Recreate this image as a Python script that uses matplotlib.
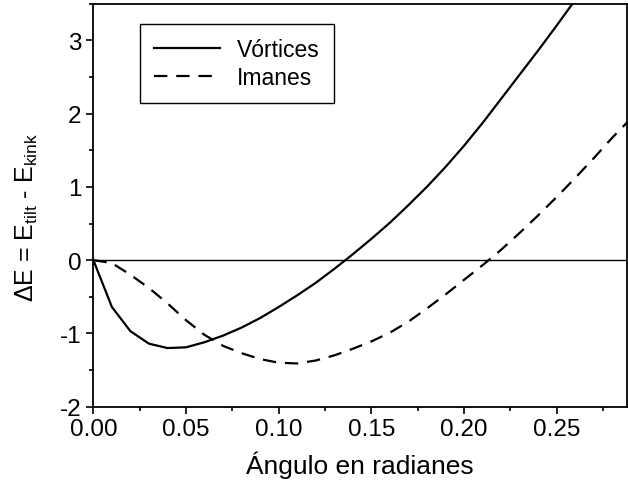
import matplotlib
matplotlib.use("Agg")
import matplotlib.pyplot as plt
from matplotlib.ticker import MultipleLocator

plt.rcParams['font.family'] = ['Liberation Sans', 'DejaVu Sans']
plt.rcParams['mathtext.fontset'] = 'custom'
plt.rcParams['mathtext.rm'] = 'Liberation Sans'
plt.rcParams['mathtext.it'] = 'Liberation Sans:italic'
plt.rcParams['axes.unicode_minus'] = False

# angle in radians, sampled every 0.01
angle = [0.00, 0.01, 0.02, 0.03, 0.04, 0.05, 0.06, 0.07, 0.08, 0.09,
         0.10, 0.11, 0.12, 0.13, 0.14, 0.15, 0.16, 0.17, 0.18, 0.19,
         0.20, 0.21, 0.22, 0.23, 0.24, 0.25, 0.26, 0.27]
vortices = [0.00, -0.64, -0.97, -1.14, -1.20, -1.19, -1.12, -1.03, -0.92, -0.79,
            -0.64, -0.48, -0.31, -0.12, 0.08, 0.29, 0.51, 0.75, 1.00, 1.27,
            1.56, 1.87, 2.20, 2.53, 2.86, 3.20, 3.55, 3.91]

angle_im = [0.00, 0.01, 0.02, 0.03, 0.04, 0.05, 0.06, 0.07, 0.08, 0.09,
            0.10, 0.11, 0.12, 0.13, 0.14, 0.15, 0.16, 0.17, 0.18, 0.19,
            0.20, 0.21, 0.22, 0.23, 0.24, 0.25, 0.26, 0.27, 0.28, 0.29]
imanes = [0.00, -0.04, -0.20, -0.38, -0.59, -0.82, -1.02, -1.17, -1.27, -1.35,
          -1.40, -1.41, -1.37, -1.30, -1.21, -1.11, -0.99, -0.84, -0.66, -0.47,
          -0.27, -0.07, 0.14, 0.37, 0.61, 0.86, 1.12, 1.39, 1.67, 1.93]

x_ticks = [0.00, 0.05, 0.10, 0.15, 0.20, 0.25]
x_ticklabels = ['0.00', '0.05', '0.10', '0.15', '0.20', '0.25']
y_ticks = [-2, -1, 0, 1, 2, 3]

fig = plt.figure(figsize=(6.28, 4.89), dpi=100)
ax = fig.add_axes([0.1487, 0.1663, 0.8497, 0.8241])

ax.axhline(0, color='black', linewidth=1.0, zorder=1)
ax.plot(angle, vortices, color='black', linewidth=1.6, label='Vórtices')
ax.plot(angle_im, imanes, color='black', linewidth=1.6,
        linestyle=(0, (6, 4)), label='Imanes')

ax.set_xlim(0, 0.288)
ax.set_ylim(-2, 3.5)
ax.set_xticks(x_ticks)
ax.set_xticklabels(x_ticklabels)
ax.set_yticks(y_ticks)
ax.xaxis.set_minor_locator(MultipleLocator(0.025))
ax.yaxis.set_minor_locator(MultipleLocator(0.5))
ax.tick_params(which='major', direction='out', length=5, width=1.2,
               labelsize=17.5, top=False, right=False)
ax.tick_params(which='minor', direction='out', length=3, width=1.2,
               top=False, right=False)
for sp in ax.spines.values():
    sp.set_linewidth(1.3)

ax.set_xlabel('Ángulo en radianes', fontsize=19, labelpad=7)
ax.set_ylabel(r'ΔE = E$_{\mathrm{tilt}}$ - E$_{\mathrm{kink}}$', fontsize=18)
ax.yaxis.set_label_coords(-0.100, 0.473)

leg = ax.legend(loc='upper left', bbox_to_anchor=(0.087, 0.95),
                borderaxespad=0, fontsize=16.5, handlelength=2.9,
                handletextpad=0.75, fancybox=False, edgecolor='black',
                framealpha=1, borderpad=0.6, labelspacing=0.25)
leg.get_frame().set_linewidth(1.0)

fig.savefig('out.png', dpi=100)
